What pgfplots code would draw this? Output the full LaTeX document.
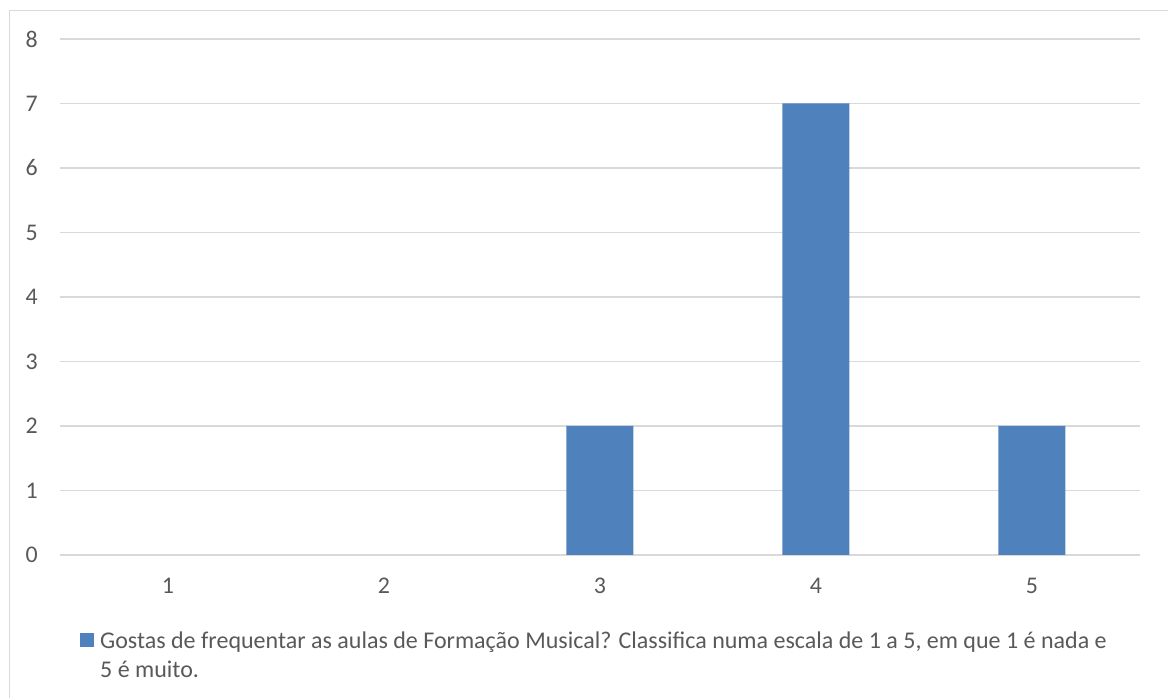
\documentclass[border=0pt]{standalone}
\usepackage{fontspec}
\setmainfont{Carlito}
\usepackage{pgfplots}
\pgfplotsset{compat=1.18}
\definecolor{barblue}{RGB}{79,129,189}
\definecolor{gridgray}{RGB}{217,217,217}
\definecolor{txtgray}{RGB}{89,89,89}
\begin{document}
\begin{tikzpicture}
\useasboundingbox (0bp,0bp) rectangle (1168bp,698bp);
\draw[gridgray, line width=1.5bp] (9.5bp,687.5bp) -- (1175bp,687.5bp) (9.5bp,687.5bp) -- (9.5bp,-5bp);
\begin{axis}[
  at={(60bp,143bp)}, anchor=south west,
  scale only axis, width=1080bp, height=516bp,
  ybar, bar width=67bp,
  xmin=0.5, xmax=5.5, ymin=0, ymax=8,
  xtick={1,2,3,4,5}, ytick={0,1,...,8},
  axis line style={draw=none},
  major tick length=0pt,
  ymajorgrids, grid style={gridgray, line width=1.3bp},
  tick label style={font=\fontsize{24}{29}\selectfont, text=txtgray},
  /pgf/number format/assume math mode=true,
  yticklabel style={anchor=east, inner sep=0pt, xshift=-22bp},
  xticklabel style={anchor=north, inner sep=0pt, yshift=-23bp},
  legend style={at={(rel axis cs:0.0185,-0.148)}, anchor=north west, draw=none, fill=none,
    inner sep=0pt, font=\fontsize{24.1}{29.5}\selectfont, text=txtgray,
    nodes={inner sep=0pt, align=left}, column sep=6bp},
  legend cell align=left,
  legend image code/.code={\fill[barblue] (0bp,8bp) rectangle (14bp,22bp);},
]
\addplot[fill=barblue, draw=none] coordinates {(1,0) (2,0) (3,2) (4,7) (5,2)};
\addlegendentry{Gostas de frequentar as aulas de Formação Musical? Classifica numa escala de 1 a 5, em que 1 é nada e\\5 é muito.}
\end{axis}
\end{tikzpicture}
\end{document}
